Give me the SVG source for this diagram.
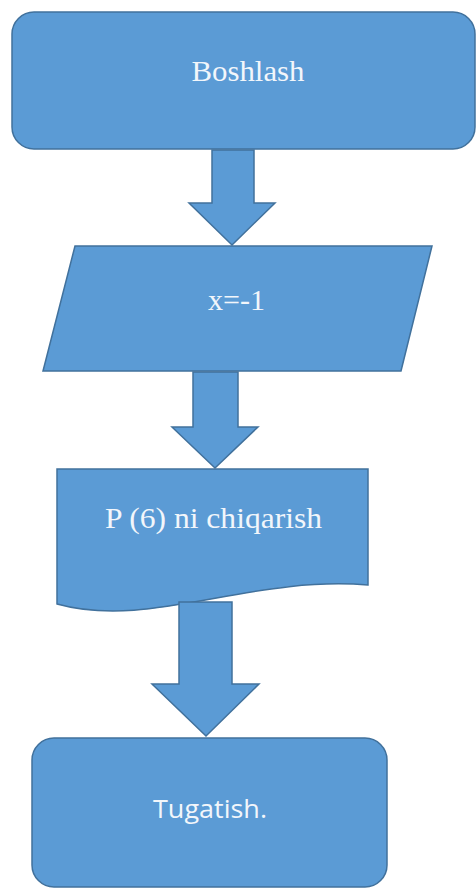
<svg xmlns="http://www.w3.org/2000/svg" width="476" height="890" viewBox="0 0 476 890">
<style>
.shape{fill:#5B9BD5;stroke:#41719C;stroke-width:1.5;stroke-linejoin:miter}
.lbl{font-family:'Liberation Serif','Times New Roman',serif;font-size:30px;fill:#F2F6FB;text-anchor:middle}
.lbl2{font-family:'Open Sans','Liberation Sans',sans-serif;font-size:26px;fill:#F2F6FB;text-anchor:middle}
</style>
<rect width="476" height="890" fill="#FFFFFF"/>
<g id="node-start">
<rect class="shape" x="12" y="12" width="463" height="137" rx="22" ry="22"/>
<text class="lbl" x="248" y="81" textLength="113" lengthAdjust="spacingAndGlyphs">Boshlash</text>
</g>
<g id="node-input">
<polygon class="shape" points="75,246 432,246 401,371 43,371"/>
<text class="lbl" x="236.5" y="310" textLength="57" lengthAdjust="spacingAndGlyphs">x=-1</text>
</g>
<g id="node-output">
<path class="shape" d="M57,469 H368 V585 C250,575 150,630 57,604 Z"/>
<text class="lbl" x="213.5" y="528" textLength="217" lengthAdjust="spacingAndGlyphs">P (6) ni chiqarish</text>
</g>
<g id="node-end">
<rect class="shape" x="32" y="738" width="355" height="149" rx="22" ry="22"/>
<text class="lbl2" x="210" y="818" textLength="114" lengthAdjust="spacingAndGlyphs">Tugatish.</text>
</g>
<g id="connectors">
<polygon class="shape" points="212,150 254,150 254,203 275,203 232,245 189,203 212,203"/>
<polygon class="shape" points="193,372 238,372 238,427 258,427 215,468 172,427 193,427"/>
<polygon class="shape" points="179,602 232,602 232,684 259,684 206,736 152,684 179,684"/>
</g>
</svg>
